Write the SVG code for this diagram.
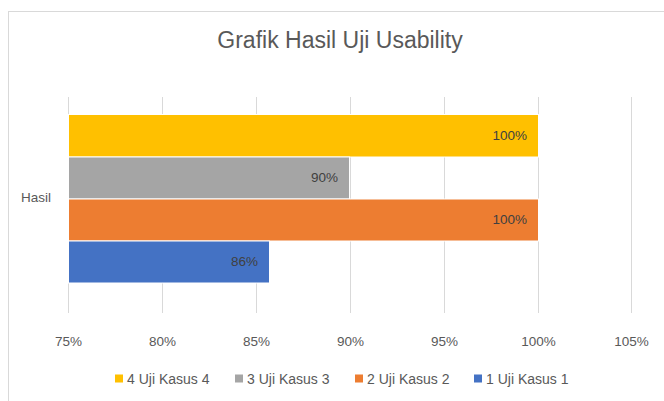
<svg xmlns="http://www.w3.org/2000/svg" width="664" height="401" viewBox="0 0 664 401">
<style>
text{font-family:"Liberation Sans",Arial,sans-serif;fill:#595959}
.tick{font-size:13.5px;text-anchor:middle}
.dl{font-size:13.5px;text-anchor:end;fill:#404040}
.lg{font-size:14px}
.grid{stroke:#d9d9d9;stroke-width:1}
.bar{stroke:#fff;stroke-width:1}
</style>
<rect x="8.5" y="11.5" width="700" height="420" fill="#fff" stroke="#d9d9d9"/>
<text x="340" y="48" font-size="23" text-anchor="middle">Grafik Hasil Uji Usability</text>
<g id="gridlines">
<line class="grid" x1="68.5" y1="97" x2="68.5" y2="313"/>
<line class="grid" x1="162.5" y1="97" x2="162.5" y2="313"/>
<line class="grid" x1="256.5" y1="97" x2="256.5" y2="313"/>
<line class="grid" x1="350.5" y1="97" x2="350.5" y2="313"/>
<line class="grid" x1="444.5" y1="97" x2="444.5" y2="313"/>
<line class="grid" x1="538.5" y1="97" x2="538.5" y2="313"/>
<line class="grid" x1="631.5" y1="97" x2="631.5" y2="313"/>
</g>
<g id="bar4"><rect class="bar" x="68.5" y="114.5" width="470" height="42.5" fill="#ffc000"/><text class="dl" x="527" y="140">100%</text></g>
<g id="bar3"><rect class="bar" x="68.5" y="157" width="281" height="42" fill="#a5a5a5"/><text class="dl" x="338" y="182">90%</text></g>
<g id="bar2"><rect class="bar" x="68.5" y="199" width="470" height="42" fill="#ed7d31"/><text class="dl" x="527" y="224">100%</text></g>
<g id="bar1"><rect class="bar" x="68.5" y="241" width="201" height="42" fill="#4472c4"/><text class="dl" x="258" y="266">86%</text></g>
<text x="21" y="202" font-size="13.5">Hasil</text>
<g id="xaxis">
<text class="tick" x="68.5" y="346">75%</text>
<text class="tick" x="162.5" y="346">80%</text>
<text class="tick" x="256.5" y="346">85%</text>
<text class="tick" x="350.5" y="346">90%</text>
<text class="tick" x="444.5" y="346">95%</text>
<text class="tick" x="538.5" y="346">100%</text>
<text class="tick" x="631.5" y="346">105%</text>
</g>
<g id="legend">
<rect x="115" y="374.5" width="8" height="8" fill="#ffc000"/><text class="lg" x="127" y="384">4 Uji Kasus 4</text>
<rect x="235" y="374.5" width="8" height="8" fill="#a5a5a5"/><text class="lg" x="247" y="384">3 Uji Kasus 3</text>
<rect x="355" y="374.5" width="8" height="8" fill="#ed7d31"/><text class="lg" x="367" y="384">2 Uji Kasus 2</text>
<rect x="474" y="374.5" width="8" height="8" fill="#4472c4"/><text class="lg" x="486" y="384">1 Uji Kasus 1</text>
</g>
</svg>
